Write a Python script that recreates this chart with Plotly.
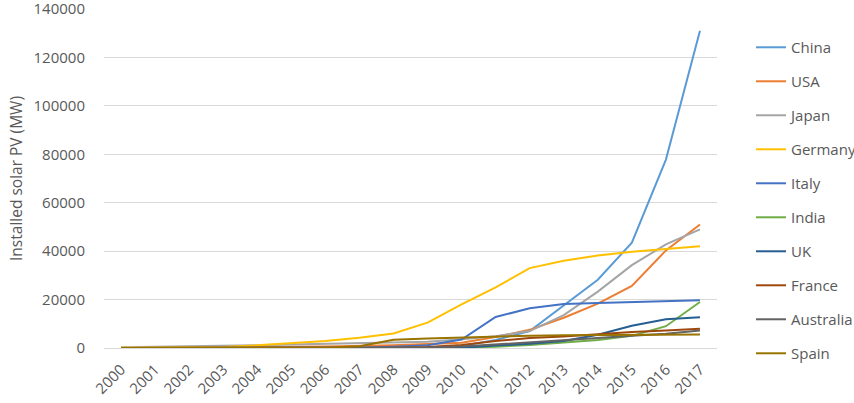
import plotly.graph_objects as go

years = [str(y) for y in range(2000, 2018)]

china     = [19, 24, 45, 55, 65, 70, 80, 100, 140, 300, 800, 3300, 7000, 17700, 28200, 43500, 77800, 131000]
usa       = [150, 170, 210, 280, 370, 480, 620, 830, 1170, 1640, 2200, 4500, 7500, 12500, 18300, 25600, 40300, 51000]
japan     = [330, 450, 640, 860, 1100, 1400, 1700, 1900, 2100, 2600, 3600, 4900, 7000, 13600, 23300, 34200, 42800, 49000]
germany   = [114, 186, 300, 435, 1100, 2000, 2900, 4200, 6000, 10500, 18000, 25000, 33000, 36000, 38200, 39700, 41000, 42000]
italy     = [19, 20, 22, 26, 31, 37, 50, 100, 480, 1150, 3500, 12800, 16400, 18200, 18600, 18900, 19300, 19700]
india     = [2, 4, 6, 8, 10, 12, 15, 20, 30, 40, 65, 560, 1200, 2300, 3300, 5000, 9000, 19000]
uk        = [2, 3, 4, 6, 8, 11, 14, 18, 22, 27, 95, 1000, 1750, 2900, 5500, 9200, 11900, 12700]
france    = [7, 8, 9, 10, 12, 15, 20, 30, 100, 370, 1200, 2900, 4100, 4700, 5700, 6600, 7200, 8000]
australia = [25, 30, 40, 45, 50, 60, 70, 80, 100, 190, 570, 1400, 2400, 3200, 4100, 5100, 5900, 7200]
spain     = [2, 4, 7, 12, 20, 45, 150, 690, 3400, 3900, 4400, 4900, 5100, 5300, 5400, 5400, 5500, 5600]

series = [
    ("China", china, "#5B9BD5"),
    ("USA", usa, "#ED7D31"),
    ("Japan", japan, "#A5A5A5"),
    ("Germany", germany, "#FFC000"),
    ("Italy", italy, "#4472C4"),
    ("India", india, "#70AD47"),
    ("UK", uk, "#255E91"),
    ("France", france, "#9E480E"),
    ("Australia", australia, "#636363"),
    ("Spain", spain, "#997300"),
]

fig = go.Figure()
for name, vals, col in series:
    fig.add_trace(go.Scatter(x=years, y=vals, name=name, mode="lines",
                             legendgroup=name,
                             line=dict(color=col, width=2)))

font = "Open Sans"
fig.update_layout(
    width=854, height=403,
    margin=dict(l=104, r=137, t=9, b=55, autoexpand=False),
    paper_bgcolor="white", plot_bgcolor="white",
    font=dict(family=font, size=15, color="#595959"),
    showlegend=True,
    legend=dict(x=1.0555, xanchor="left", y=0.935, yanchor="top",
                traceorder="grouped", tracegroupgap=11.5,
                font=dict(family=font, size=15, color="#595959"),
                bgcolor="rgba(0,0,0,0)"),
    xaxis=dict(type="category", range=[-0.5, 17.5], tickangle=-45,
               automargin=False, ticklabeloverflow="allow",
               showgrid=False, showline=True, linecolor="#D9D9D9", linewidth=1,
               ticks="outside", ticklen=6, tickcolor="rgba(0,0,0,0)",
               tickfont=dict(size=15)),
    yaxis=dict(range=[0, 140000], dtick=20000, showgrid=True, gridcolor="#D9D9D9",
               automargin=False, ticklabeloverflow="allow",
               gridwidth=1, zeroline=False, showline=False,
               ticks="outside", ticklen=15, tickcolor="rgba(0,0,0,0)",
               tickformat="d", tickfont=dict(size=15),
               title=dict(text="Installed solar PV (MW)", font=dict(size=15.5), standoff=7)),
)

fig.write_html("out.html", config={"displayModeBar": False},
               post_script="document.body.style.margin='0';document.body.style.overflow='hidden';")
